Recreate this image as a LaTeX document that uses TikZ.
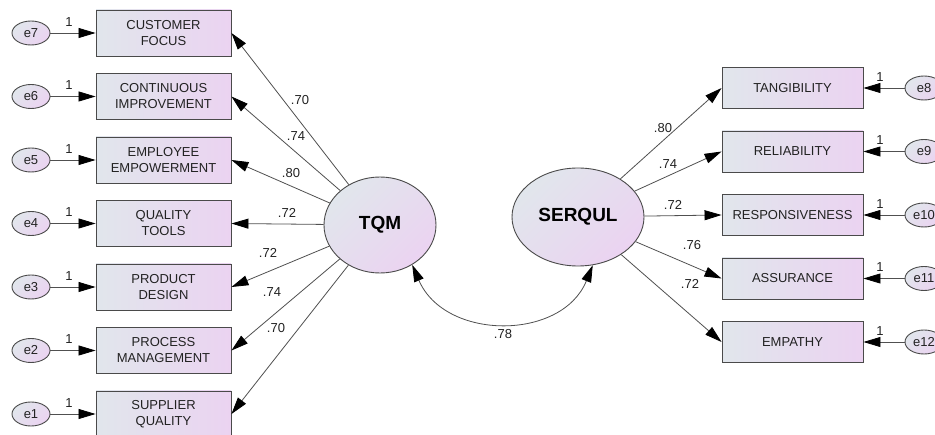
\documentclass[tikz,border=0pt]{standalone}
\usepackage{fontspec}
\setmainfont{Liberation Sans}
\usetikzlibrary{arrows.meta,shapes.geometric}
\definecolor{fillL}{HTML}{E1E6EC}
\definecolor{fillR}{HTML}{EBD3F1}
\definecolor{edgec}{HTML}{4A4A4A}
\definecolor{lnc}{HTML}{505050}
\definecolor{txt}{HTML}{222222}
\begin{document}
\begin{tikzpicture}[x=1pt,y=-1pt,
  obsL/.style={draw=edgec, line width=0.9pt, left color=fillL, right color=fillR,
    minimum height=46pt, minimum width=135pt, inner sep=0pt, align=center,
    font=\fontsize{13}{16}\selectfont, text=txt},
  obsR/.style={obsL, minimum height=41pt, minimum width=141pt},
  errv/.style={ellipse, draw=edgec, line width=0.9pt, left color=fillL, right color=fillR,
    shading angle=45, minimum width=38pt, minimum height=24pt, inner sep=0pt,
    font=\fontsize{13}{15}\selectfont, text=txt},
  latv/.style={ellipse, draw=edgec, line width=0.9pt, left color=fillL, right color=fillR,
    shading angle=45, inner sep=0pt, font=\bfseries\fontsize{19}{22}\selectfont, text=black},
  arr/.style={draw=lnc, line width=0.8pt, -{Triangle[length=17pt,width=10pt,color=black]}},
  darr/.style={draw=lnc, line width=0.8pt, {Triangle[length=17pt,width=10pt,color=black]}-{Triangle[length=17pt,width=10pt,color=black]}},
  lab/.style={font=\fontsize{13}{15}\selectfont, text=txt, inner sep=0pt},
]
\clip (0,0) rectangle (935,435);
\fill[white] (0,0) rectangle (935,435);

% latent variables
\node[latv, minimum width=112pt, minimum height=96pt] (tqm) at (380,225) {TQM};
\node[latv, minimum width=132pt, minimum height=98pt] (ser) at (578,217) {SERQUL};

% left observed
\node[obsL] (b7) at (163.5,33) {CUSTOMER\\FOCUS};
\node[obsL] (b6) at (163.5,96.5) {CONTINUOUS\\IMPROVEMENT};
\node[obsL] (b5) at (163.5,160) {EMPLOYEE\\EMPOWERMENT};
\node[obsL] (b4) at (163.5,223.5) {QUALITY\\TOOLS};
\node[obsL] (b3) at (163.5,287) {PRODUCT\\DESIGN};
\node[obsL] (b2) at (163.5,350.5) {PROCESS\\MANAGEMENT};
\node[obsL] (b1) at (163.5,414) {SUPPLIER\\QUALITY};

% left errors
\node[errv] (e7) at (31,33) {e7};
\node[errv] (e6) at (31,96.5) {e6};
\node[errv] (e5) at (31,160) {e5};
\node[errv] (e4) at (31,223.5) {e4};
\node[errv] (e3) at (31,287) {e3};
\node[errv] (e2) at (31,350.5) {e2};
\node[errv] (e1) at (31,414) {e1};

% right observed
\node[obsR] (r1) at (792.5,88) {TANGIBILITY};
\node[obsR] (r2) at (792.5,151.5) {RELIABILITY};
\node[obsR] (r3) at (792.5,215) {RESPONSIVENESS};
\node[obsR] (r4) at (792.5,278.5) {ASSURANCE};
\node[obsR] (r5) at (792.5,342) {EMPATHY};

% right errors
\node[errv] (e8) at (924,88) {e8};
\node[errv] (e9) at (924,151.5) {e9};
\node[errv] (e10) at (924,215) {e10};
\node[errv] (e11) at (924,278.5) {e11};
\node[errv] (e12) at (924,342) {e12};

% error arrows
\foreach \e/\b in {e7/b7,e6/b6,e5/b5,e4/b4,e3/b3,e2/b2,e1/b1}
  \draw[arr] (\e) -- (\b);
\foreach \e/\b in {e8/r1,e9/r2,e10/r3,e11/r4,e12/r5}
  \draw[arr] (\e) -- (\b);

% loading arrows
\foreach \b in {b7,b6,b5,b4,b3,b2,b1}
  \draw[arr] (tqm) -- (\b.east);
\foreach \b in {r1,r2,r3,r4,r5}
  \draw[arr] (ser) -- (\b.west);

% covariance
\draw[darr] (tqm.-51) .. controls (445,341) and (562,341) .. (ser.-73);

% fixed-path labels
\foreach \y in {22,85.5,149,212.5,276,339.5,403}
  \node[lab] at (69,\y) {1};
\foreach \y in {77,140.5,204,267.5,331}
  \node[lab] at (880,\y) {1};

% loading labels
\node[lab] at (300,100) {.70};
\node[lab] at (296,136) {.74};
\node[lab] at (291,173) {.80};
\node[lab] at (287,213) {.72};
\node[lab] at (268,253) {.72};
\node[lab] at (272,292) {.74};
\node[lab] at (276,328) {.70};

\node[lab] at (663,128) {.80};
\node[lab] at (668,164) {.74};
\node[lab] at (673,205) {.72};
\node[lab] at (692,245) {.76};
\node[lab] at (690,284) {.72};

\node[lab] at (503,334) {.78};
\end{tikzpicture}
\end{document}
